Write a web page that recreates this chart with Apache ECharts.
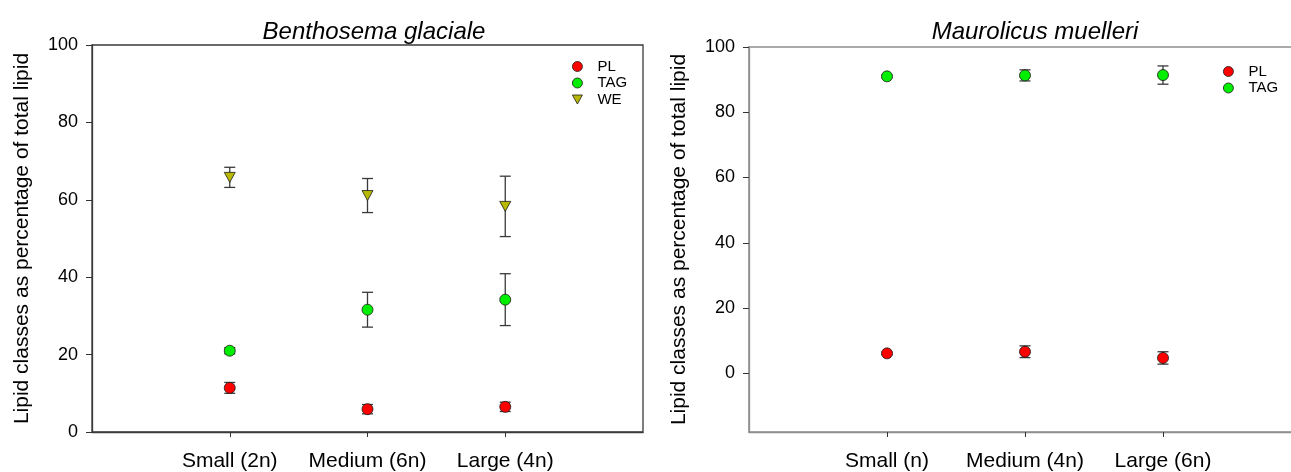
<!DOCTYPE html>
<html>
<head>
<meta charset="utf-8">
<title>Lipid classes</title>
<script src="https://cdn.jsdelivr.net/npm/echarts@6/dist/echarts.min.js"></script>
<style>
  html, body { margin: 0; padding: 0; background: #fff; overflow: hidden; }
  /* the right-hand panel runs slightly past the page edge */
  #chart { width: 1310px; height: 472px; }
</style>
</head>
<body>
<div id="chart"></div>
<script>
// Benthosema glaciale: size classes and lipid class means (± SE)
const bgCategories = ['Small (2n)', 'Medium (6n)', 'Large (4n)'];
const bgPL = [11.4, 5.9, 6.5];
const bgPLErr = [1.4, 1.2, 1.2];
const bgTAG = [21.0, 31.6, 34.2];
const bgTAGErr = [0.8, 4.5, 6.7];
const bgWE = [65.8, 61.1, 58.3];
const bgWEErr = [2.6, 4.4, 7.8];

// Maurolicus muelleri: size classes and lipid class means (± SE)
const mmCategories = ['Small (n)', 'Medium (4n)', 'Large (6n)'];
const mmPL = [6.1, 6.6, 4.7];
const mmPLErr = [0.4, 1.8, 1.9];
const mmTAG = [91.0, 91.3, 91.4];
const mmTAGErr = [0.4, 1.7, 2.8];

const yTicks = [0, 20, 40, 60, 80, 100];
const yTitle = 'Lipid classes as percentage of total lipid';

const FONT = '"Liberation Sans", Arial, Helvetica, sans-serif';
const RED = '#ff0000';
const GREEN = '#00ee00';
const OLIVE = '#b8b800';
const DOWN_TRIANGLE = 'path://M0,0 L10,0 L5,9 Z';

// Category axis padded with blank slots so the three classes sit at 1/4, 1/2, 3/4
function padded(cats) { return [''].concat(cats, ['']); }

function pairs(cats, vals) { return cats.map((c, i) => [c, vals[i]]); }

function errData(cats, vals, errs) {
  return cats.map((c, i) => [c, vals[i] - errs[i], vals[i] + errs[i]]);
}

function errorBars(name, gi, cats, vals, errs, color) {
  return {
    name: name + ' SE',
    type: 'custom',
    xAxisIndex: gi,
    yAxisIndex: gi,
    z: 1,
    silent: true,
    data: errData(cats, vals, errs),
    renderItem: function (params, api) {
      const lo = api.coord([api.value(0), api.value(1)]);
      const hi = api.coord([api.value(0), api.value(2)]);
      const half = 5.5;
      const style = { stroke: color, lineWidth: 1.3 };
      return {
        type: 'group',
        children: [
          { type: 'line', shape: { x1: lo[0], y1: lo[1], x2: hi[0], y2: hi[1] }, style: style },
          { type: 'line', shape: { x1: lo[0] - half, y1: lo[1], x2: lo[0] + half, y2: lo[1] }, style: style },
          { type: 'line', shape: { x1: hi[0] - half, y1: hi[1], x2: hi[0] + half, y2: hi[1] }, style: style }
        ]
      };
    }
  };
}

function points(name, gi, cats, vals, color, symbol) {
  return {
    name: name,
    type: 'scatter',
    xAxisIndex: gi,
    yAxisIndex: gi,
    z: 3,
    symbol: symbol,
    symbolSize: symbol === DOWN_TRIANGLE ? [11, 10] : 11,
    itemStyle: { color: color, borderColor: '#1a1a1a', borderWidth: 0.8, opacity: 1 },
    data: pairs(cats, vals)
  };
}

function xAxis(gi, cats, lineColor) {
  return {
    type: 'category',
    gridIndex: gi,
    data: padded(cats),
    boundaryGap: false,
    axisLine: { show: true, onZero: false, lineStyle: { color: lineColor, width: 1.3 } },
    axisTick: {
      show: true,
      length: 5,
      interval: function (index) { return index > 0 && index < cats.length + 1; },
      lineStyle: { color: '#333', width: 1 }
    },
    axisLabel: {
      interval: 0,
      margin: 19,
      fontSize: 21,
      fontFamily: FONT,
      color: '#000'
    },
    splitLine: { show: false }
  };
}

function yAxis(gi, min, lineColor) {
  return {
    type: 'value',
    gridIndex: gi,
    min: min,
    max: 100,
    name: yTitle,
    nameLocation: 'middle',
    nameGap: 59,
    nameRotate: 90,
    nameTextStyle: { fontSize: 21, fontFamily: FONT, color: '#000' },
    axisLine: { show: true, onZero: false, lineStyle: { color: lineColor, width: 1.3 } },
    axisTick: { show: true, length: 6, customValues: yTicks, lineStyle: { color: '#333', width: 1 } },
    axisLabel: { customValues: yTicks, margin: 14, fontSize: 18, fontFamily: FONT, color: '#000' },
    splitLine: { show: false }
  };
}

function legend(left, top, data) {
  return {
    orient: 'vertical',
    left: left,
    top: top,
    itemWidth: 10,
    itemHeight: 10,
    itemGap: 1.5,
    selectedMode: false,
    itemStyle: { borderWidth: 0.8, borderColor: '#1a1a1a' },
    textStyle: { fontSize: 15, fontFamily: FONT, color: '#000', lineHeight: 15, padding: [0, 0, 0, 10] },
    data: data
  };
}

const chart = echarts.init(document.getElementById('chart'), null, { renderer: 'canvas' });

chart.setOption({
  backgroundColor: '#ffffff',
  animation: false,
  title: [
    {
      text: 'Benthosema glaciale',
      left: 369,
      top: 15,
      textAlign: 'center',
      textStyle: { fontSize: 24, fontStyle: 'italic', fontWeight: 'normal', fontFamily: FONT, color: '#000' }
    },
    {
      text: 'Maurolicus muelleri',
      left: 1030,
      top: 15,
      textAlign: 'center',
      textStyle: { fontSize: 24, fontStyle: 'italic', fontWeight: 'normal', fontFamily: FONT, color: '#000' }
    }
  ],
  legend: [
    legend(567, 54, [
      { name: 'PL', icon: 'circle' },
      { name: 'TAG', icon: 'circle' },
      { name: 'WE', icon: DOWN_TRIANGLE }
    ]),
    legend(1218, 59, [
      { name: 'PL', icon: 'circle' },
      { name: 'TAG', icon: 'circle' }
    ])
  ],
  grid: [
    { left: 92, top: 45, width: 551, height: 387, show: true, borderColor: '#3a3a3a', borderWidth: 1.3, backgroundColor: 'transparent' },
    { left: 749, top: 47, width: 552, height: 387, show: true, borderColor: '#8f8f8f', borderWidth: 1.6, backgroundColor: 'transparent' }
  ],
  xAxis: [
    xAxis(0, bgCategories, '#3a3a3a'),
    xAxis(1, mmCategories, '#8f8f8f')
  ],
  yAxis: [
    yAxis(0, 0, '#3a3a3a'),
    yAxis(1, -18, '#8f8f8f')
  ],
  series: [
    errorBars('PL', 0, bgCategories, bgPL, bgPLErr, '#3a3a3a'),
    errorBars('TAG', 0, bgCategories, bgTAG, bgTAGErr, '#3a3a3a'),
    errorBars('WE', 0, bgCategories, bgWE, bgWEErr, '#3a3a3a'),
    points('PL', 0, bgCategories, bgPL, RED, 'circle'),
    points('TAG', 0, bgCategories, bgTAG, GREEN, 'circle'),
    points('WE', 0, bgCategories, bgWE, OLIVE, DOWN_TRIANGLE),

    errorBars('PL', 1, mmCategories, mmPL, mmPLErr, '#3a3a3a'),
    errorBars('TAG', 1, mmCategories, mmTAG, mmTAGErr, '#3a3a3a'),
    points('PL', 1, mmCategories, mmPL, RED, 'circle'),
    points('TAG', 1, mmCategories, mmTAG, GREEN, 'circle')
  ]
});
</script>
</body>
</html>
